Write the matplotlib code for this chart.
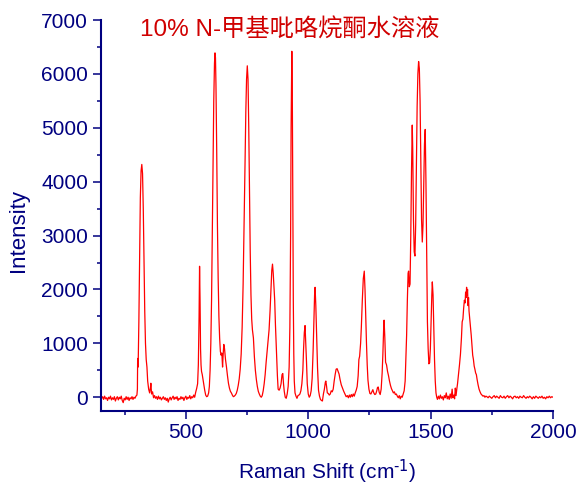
import matplotlib
matplotlib.use('Agg')
import matplotlib.pyplot as plt
from matplotlib.ticker import MultipleLocator

# Raman spectrum of 10% NMP water solution
shift = [
    152, 156, 160, 164, 168, 172, 176, 180, 184, 188,
    192, 196, 200, 204, 208, 212, 216, 220, 224, 228,
    232, 236, 240, 244, 248, 252, 256, 260, 264, 268,
    272, 276, 280, 284, 288, 292, 296, 300,
    302, 303, 305, 308, 311, 314, 317, 320, 323, 326,
    329, 332, 335, 338, 341, 344, 348, 352, 355, 357,
    360, 364,
    368, 372, 376, 380, 384, 388, 392, 396, 400, 404,
    408, 412, 416, 420, 424, 428, 432, 436, 440, 444,
    448, 452, 456, 460, 464, 468, 472, 476, 480, 484,
    488, 492, 496, 500, 504, 508, 512, 516, 520, 524,
    528, 532, 536, 540, 544,
    548, 551, 554, 556, 558, 560, 562, 564, 567, 570,
    573, 577, 581, 585, 589, 593, 596, 599, 602, 605,
    608, 611, 614, 617, 619, 621, 623, 626, 629, 632,
    635, 638, 641, 644, 647, 650, 652, 655, 658, 662,
    666, 670, 674, 678, 682, 686, 690, 694, 698,
    702, 706, 710, 714, 718, 722, 726, 730, 734, 738,
    742, 745, 748, 751, 754, 757, 760, 763, 766, 769,
    772, 776, 780, 784, 788, 792, 796, 800, 804, 808,
    812, 816, 820, 824, 828, 832, 836, 840, 844, 848,
    851, 854, 857, 860, 863, 866, 870, 874, 877, 881,
    885, 889, 893, 896, 899, 902, 906, 910, 914, 918,
    922, 925, 928, 930, 932, 933, 935, 937, 939, 941,
    943, 946, 950, 954, 958, 962, 966, 970, 974, 978,
    981, 984, 987, 990, 993, 996, 1000,
    1004, 1008, 1012, 1016, 1020, 1023, 1026, 1028, 1031, 1035,
    1038, 1042, 1046, 1050, 1054, 1058, 1062, 1066, 1070, 1072,
    1075, 1078, 1082, 1086, 1090, 1094, 1098, 1102, 1106, 1110,
    1114, 1118, 1122, 1126, 1130, 1135, 1140, 1145, 1150, 1155,
    1160, 1164, 1168, 1172, 1176, 1180, 1184, 1188, 1192, 1196,
    1200, 1204, 1207,
    1210, 1214, 1217, 1221, 1225, 1229, 1232, 1235, 1238, 1241,
    1244, 1248, 1252, 1256, 1260, 1264, 1268, 1272, 1276, 1280,
    1283, 1286, 1290, 1294, 1298, 1302, 1305, 1308, 1310, 1313,
    1316, 1320, 1324, 1328, 1332, 1336, 1340, 1344, 1348, 1352,
    1356, 1360, 1364, 1368, 1372, 1376, 1380, 1384, 1388, 1392,
    1396, 1399, 1402, 1405, 1408, 1410, 1413, 1416, 1419, 1422,
    1425, 1427, 1430, 1433, 1436, 1439, 1442, 1445, 1448, 1451,
    1454, 1457, 1460, 1463, 1466, 1469, 1472, 1475, 1478, 1481,
    1484, 1487, 1490, 1493, 1496, 1499, 1502, 1505, 1507, 1510,
    1513, 1516, 1519, 1522, 1525,
    1528, 1532, 1536, 1540, 1544, 1548, 1552, 1556, 1560, 1564,
    1568, 1572, 1576, 1580, 1584, 1588, 1591, 1595, 1598, 1601,
    1604, 1607,
    1610, 1614, 1618, 1622, 1626, 1629, 1632, 1635, 1638, 1641,
    1643, 1645, 1647, 1649, 1651, 1653, 1655, 1657, 1660, 1663,
    1666, 1669, 1672, 1675, 1678, 1681, 1684, 1687, 1690, 1694,
    1698, 1702, 1706, 1710, 1714, 1718, 1722, 1726,
    1730, 1735, 1740, 1745, 1750, 1755, 1760, 1765, 1770, 1775,
    1780, 1785, 1790, 1795, 1800, 1805, 1810, 1815, 1820, 1825,
    1830, 1835, 1840, 1845, 1850, 1855, 1860, 1865, 1870, 1875,
    1880, 1885, 1890, 1895, 1900, 1905, 1910, 1915, 1920, 1925,
    1930, 1935, 1940, 1945, 1950, 1955, 1960, 1965, 1970, 1975,
    1980, 1985, 1990, 1995, 2000,
]
intensity = [
    30, -20, 10, -40, 20, -30, -10, -60, 0, -30,
    20, -50, -10, -40, 10, -70, -20, 10, -50, 0,
    -30, 20, -60, -100, -20, -50, 10, -40, 0, -60,
    -10, -30, 10, -40, 0, -20, 20, 40,
    150, 720, 560, 1400, 2600, 3700, 4200, 4320, 4150, 3500,
    2500, 1600, 1000, 700, 560, 300, 150, 80, 170, 260,
    60, 100,
    -10, 30, -20, 10, -40, 20, -30, 0, -50, -20,
    10, -40, -10, -60, -20, -90, -30, 0, -50, -10,
    20, -40, 0, -30, 10, -60, -20, -40, 10, -30,
    0, -60, -10, 20, -40, 0, -20, 30, -30, 10,
    -10, 40, 0, 90, 160,
    250, 600, 1500, 2430, 1800, 900, 600, 480, 420, 330,
    250, 130, 40, 10, 20, 80, 200, 500, 1000, 1800,
    3000, 4300, 5500, 6200, 6390, 6300, 5800, 4600, 3200, 2200,
    1500, 1100, 850, 780, 820, 560, 760, 980, 900, 700,
    560, 400, 260, 170, 110, 80, 40, 10, 20,
    40, 70, 130, 220, 340, 520, 800, 1300, 2100, 3200,
    4400, 5300, 5900, 6150, 5900, 5000, 3800, 2700, 1900, 1450,
    1250, 1100, 750, 500, 330, 200, 110, 60, 20, 0,
    30, 120, 250, 420, 650, 850, 1050, 1250, 1600, 2050,
    2350, 2470, 2300, 2050, 1800, 1350, 870, 400, 150, 130,
    170, 250, 420, 440, 250, 110, 0, -20, 60, 200,
    560, 1300, 3000, 5000, 6100, 6420, 5600, 3500, 1800, 800,
    300, 80, 20, -20, 30, 40, 60, 120, 250, 500,
    900, 1200, 1330, 1000, 650, 250, 60,
    0, 30, 120, 350, 870, 1400, 1900, 2040, 1700, 1060,
    550, 130, 20, -40, -60, -70, 60, 150, 280, 300,
    200, 80, 70, 40, 60, 120, 100, 150, 300, 420,
    520, 530, 480, 430, 330, 230, 170, 110, 60, 10,
    30, -10, 40, 0, 50, 10, 60, 20, 80, 130,
    200, 400, 700,
    760, 1000, 1300, 1800, 2200, 2340, 2000, 1500, 1000, 600,
    320, 150, 70, 60, 100, 140, 80, 50, 60, 120,
    180, 190, 90, 50, 150, 450, 800, 1250, 1430, 1100,
    650, 600, 480, 400, 300, 220, 160, 120, 80, 100,
    50, 60, 20, -10, 30, -30, 20, 0, 60, 120,
    300, 700, 1150, 1800, 2300, 2340, 2050, 2100, 3000, 4200,
    5050, 4600, 3300, 2700, 2620, 3200, 4300, 5400, 6000, 6230,
    6100, 5500, 4400, 3300, 2880, 3200, 3900, 4700, 4970, 4000,
    2600, 1400, 900, 620, 640, 900, 1400, 1900, 2140, 1900,
    1300, 700, 300, 80, 0,
    -40, 20, -30, 40, -20, 10, -50, 30, -10, 80,
    -30, 20, -40, 60, -20, 150, -10, 40, -30, 170,
    30, 150,
    250, 420, 600, 800, 1100, 1400, 1450, 1650, 1800, 1750,
    1950, 1850, 2040, 1900, 2000, 1700, 1850, 1600, 1450, 1300,
    1150, 950, 780, 700, 580, 520, 450, 420, 330, 230,
    150, 100, 60, 40, 20, 30, 0, 20,
    10, -10, 20, 0, -20, 10, 30, -10, 20, 0,
    -20, 30, 0, -10, 20, -20, 10, 30, -10, 20,
    0, -30, 10, 20, -10, 10, -20, 20, 0, -10,
    30, 0, -20, 10, -10, 20, 0, -30, 10, -20,
    20, 0, -20, 10, -10, 20, -20, 0, -30, 10,
    -10, 20, -10, 10, 0,
]
assert len(shift) == len(intensity)

title = '10% N-甲基吡咯烷酮水溶液'
navy = '#000080'

plt.rcParams['font.family'] = ['Liberation Sans', 'Noto Sans CJK SC']
plt.rcParams['mathtext.default'] = 'regular'

fig = plt.figure(figsize=(5.78, 4.88), dpi=100)
ax = fig.add_axes([0.1742, 0.1584, 0.7825, 0.8006])

ax.plot(shift, intensity, color='#ff0000', lw=0.9)

ax.set_xlim(152, 2000)
ax.set_ylim(-250, 7000)
ax.xaxis.set_major_locator(MultipleLocator(500))
ax.xaxis.set_minor_locator(MultipleLocator(250))
ax.yaxis.set_major_locator(MultipleLocator(1000))
ax.yaxis.set_minor_locator(MultipleLocator(500))

for side in ['top', 'right']:
    ax.spines[side].set_visible(False)
for side in ['left', 'bottom']:
    ax.spines[side].set_color(navy)
    ax.spines[side].set_linewidth(1.5)

ax.tick_params(which='major', length=5.5, width=1.1, color=navy,
               labelcolor=navy, labelsize=15, direction='out')
ax.tick_params(which='minor', length=3, width=1.1, color=navy, direction='out')

ax.set_xlabel(r'Raman Shift (cm$^{\text{-1}}$)', color=navy, fontsize=15, labelpad=11)
ax.set_ylabel('Intensity', color=navy, fontsize=16)
ax.yaxis.set_label_coords(-0.158, 0.4625)

ax.text(312, 6700, title, color='#d00000', fontsize=17.5, ha='left', va='baseline')

fig.savefig('out.png', dpi=100)
